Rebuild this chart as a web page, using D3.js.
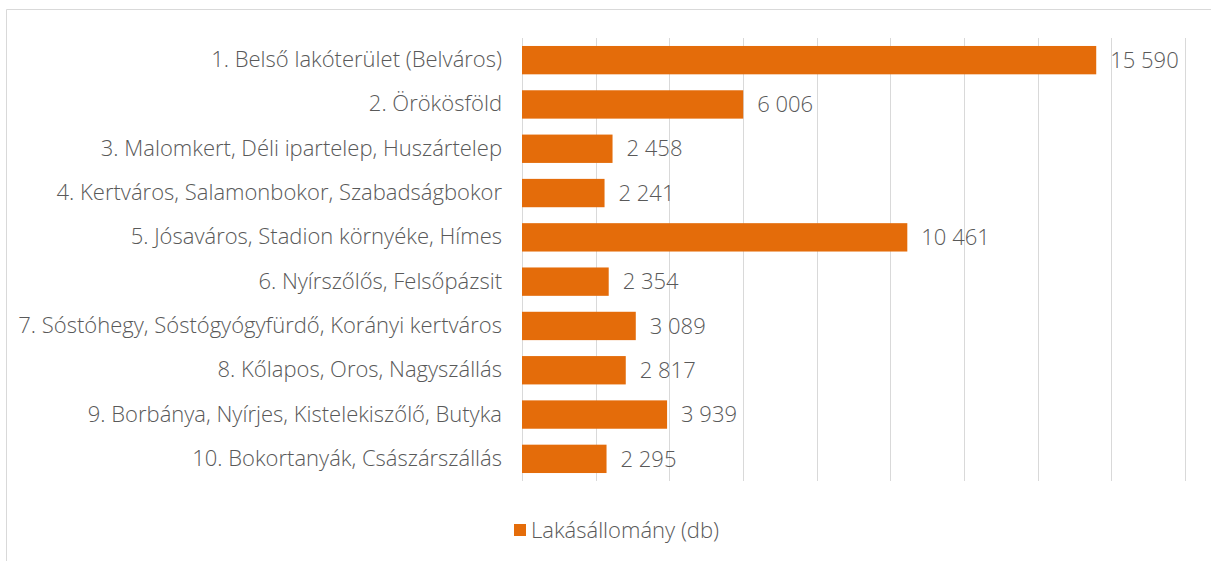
<!DOCTYPE html>
<html lang="hu">
<head>
<meta charset="UTF-8">
<title>lakasallomany</title>
<script src="https://cdn.jsdelivr.net/npm/d3@7"></script>
<style>
  body { margin: 0; background: #fff; overflow: hidden; }
  svg { display: block; }
  svg text { font-family: "Open Sans", Lato, sans-serif; font-weight: 300; }
</style>
</head>
<body>
<svg width="1211" height="561" id="mainsvg"></svg>
<script>
const categories = [
  '1. Belső lakóterület (Belváros)',
  '2. Örökösföld',
  '3. Malomkert, Déli ipartelep, Huszártelep',
  '4. Kertváros, Salamonbokor, Szabadságbokor',
  '5. Jósaváros, Stadion környéke, Hímes',
  '6. Nyírszőlős, Felsőpázsit',
  '7. Sóstóhegy, Sóstógyógyfürdő, Korányi kertváros',
  '8. Kőlapos, Oros, Nagyszállás',
  '9. Borbánya, Nyírjes, Kistelekiszőlő, Butyka',
  '10. Bokortanyák, Császárszállás'
];
const values = [15590, 6006, 2458, 2241, 10461, 2354, 3089, 2817, 3939, 2295];
const gridTicks = [0, 2000, 4000, 6000, 8000, 10000, 12000, 14000, 16000, 18000];
const seriesName = 'Lakásállomány (db)';

const svg = d3.select('svg');
const width = +svg.attr('width');
const height = +svg.attr('height');
const margin = {top: 38, right: 26, bottom: 80, left: 522};
const innerWidth = width - margin.left - margin.right;
const innerHeight = height - margin.top - margin.bottom;

const barColor = '#e46c0a';
const textColor = '#595959';
const fontSize = '22px';

// chart frame: only the top and left edges fall inside the picture
svg.append('path')
  .attr('d', `M6.5,${height}V9.5H${width}`)
  .attr('fill', 'none').attr('stroke', '#d9d9d9');

const g = svg.append('g').attr('transform', `translate(${margin.left},${margin.top})`);

const x = d3.scaleLinear().domain([0, 18000]).range([0, innerWidth]);
const y = d3.scaleBand().domain(categories).range([0, innerHeight]).paddingInner(0.36).paddingOuter(0.18);

// gridlines
g.append('g').selectAll('line').data(gridTicks).join('line')
  .attr('x1', d => Math.round(x(d)) + 0.5).attr('x2', d => Math.round(x(d)) + 0.5)
  .attr('y1', 0).attr('y2', innerHeight)
  .attr('stroke', '#d9d9d9').attr('stroke-width', 1);

// category labels
const yAxis = d3.axisLeft(y).tickSize(0).tickPadding(20);
const yG = g.append('g').call(yAxis);
yG.select('.domain').remove();
yG.selectAll('text')
  .attr('fill', textColor)
  .attr('font-size', fontSize)
  .style('font-family', '"Open Sans", Lato, sans-serif')
  .style('font-weight', 300);

// bars
g.append('g').selectAll('rect').data(values).join('rect')
  .attr('x', x(0))
  .attr('y', (d, i) => y(categories[i]))
  .attr('width', d => x(d) - x(0))
  .attr('height', y.bandwidth())
  .attr('fill', barColor);

const fmt = d3.formatLocale({decimal: ',', thousands: ' ', grouping: [3], currency: ['', ' Ft']}).format(',d');

g.append('g').selectAll('text').data(values).join('text')
  .attr('x', d => x(d) + 14)
  .attr('y', (d, i) => y(categories[i]) + y.bandwidth() / 2)
  .attr('dy', '0.35em')
  .attr('fill', textColor)
  .attr('font-size', fontSize)
  .text(d => fmt(d));

// legend
const lg = svg.append('g').attr('transform', 'translate(514,524)');
lg.append('rect').attr('width', 12).attr('height', 12).attr('fill', barColor);
lg.append('text')
  .attr('x', 17).attr('y', 6).attr('dy', '0.35em')
  .attr('fill', textColor).attr('font-size', fontSize)
  .text(seriesName);
</script>
</body>
</html>
